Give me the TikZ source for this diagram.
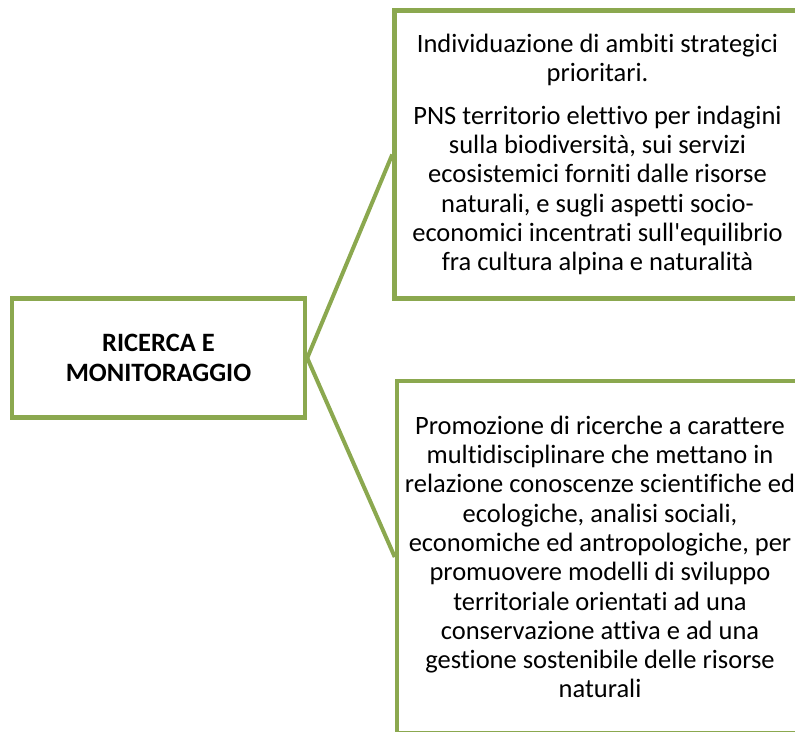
\documentclass[tikz,border=0pt]{standalone}
\usepackage{fontspec}
\setmainfont{Carlito}[Ligatures={NoCommon,TeXOff}]
\usetikzlibrary{positioning}
\definecolor{leafgreen}{RGB}{139,168,79}

\begin{document}
\begin{tikzpicture}[x=1pt,y=-1pt,
	box/.style={draw=leafgreen,line width=4.5pt,fill=white,align=center,inner sep=0pt,font=\fontsize{26.5}{29.3}\selectfont},
	link/.style={draw=leafgreen,line width=4pt}]
		\useasboundingbox (0,0) rectangle (795,731);
		\clip (0,0) rectangle (795,731);
		\node[box,minimum width=293pt,minimum height=119pt,font=\bfseries\fontsize{26.5}{30}\selectfont] (topic) at (158.5,358) {RICERCA E\\MONITORAGGIO};
		\node[box,minimum width=406pt,minimum height=288pt] (scope) at (597.5,154.5) {Individuazione di ambiti strategici\\prioritari.\\[13pt]PNS territorio elettivo per indagini\\sulla biodiversità, sui servizi\\ecosistemici forniti dalle risorse\\naturali, e sugli aspetti socio-\\economici incentrati sull'equilibrio\\fra cultura alpina e naturalità};
		\node[box,minimum width=406pt,minimum height=352pt] (promo) at (600,557) {Promozione di ricerche a carattere\\multidisciplinare che mettano in\\relazione conoscenze scientifiche ed\\ecologiche, analisi sociali,\\economiche ed antropologiche, per\\promuovere modelli di sviluppo\\territoriale orientati ad una\\conservazione attiva e ad una\\gestione sostenibile delle risorse\\naturali};
		\draw[link] (topic.east) -- (scope.west);
		\draw[link] (topic.east) -- (promo.west);
\end{tikzpicture}
\end{document}
